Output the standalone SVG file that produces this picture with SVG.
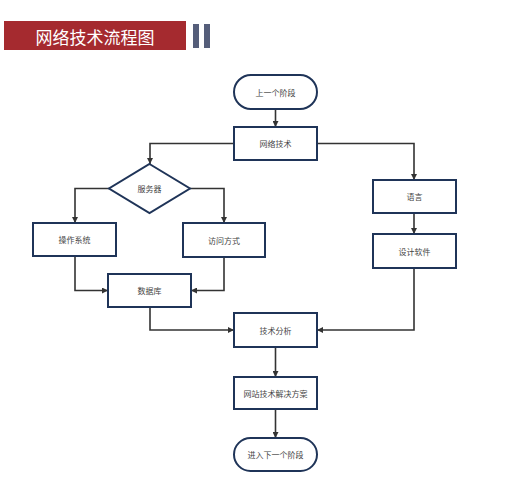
<svg xmlns="http://www.w3.org/2000/svg" width="526" height="500" viewBox="0 0 526 500">
<defs>
<marker id="arr" viewBox="0 0 10 10" refX="10" refY="5" markerWidth="6" markerHeight="6" markerUnits="userSpaceOnUse" orient="auto">
<path d="M0,0 L10,5 L0,10 Z" fill="#333"/>
</marker>
</defs>
<style>
.box{fill:#fff;stroke:#1f3458;stroke-width:2}
.lbl{font-family:"Noto Sans CJK SC","Noto Sans",sans-serif;font-size:8px;fill:#444;text-anchor:middle;dominant-baseline:central}
.con{fill:none;stroke:#333;stroke-width:1.6;marker-end:url(#arr)}
</style>
<rect width="526" height="500" fill="#fff"/>
<g id="title">
<rect x="4" y="21" width="182" height="29" fill="#a52a2f"/>
<text x="95" y="36" font-family="'Noto Sans CJK SC',sans-serif" font-size="17" fill="#fff" text-anchor="middle" dominant-baseline="central">网络技术流程图</text>
<rect x="193" y="24" width="6" height="24" fill="#555e7a"/>
<rect x="204" y="24" width="6" height="24" fill="#555e7a"/>
</g>
<g id="connectors">
<path class="con" d="M275.5,109 V127"/>
<path class="con" d="M234,143.5 H150 V164"/>
<path class="con" d="M317,143.5 H414 V180"/>
<path class="con" d="M109,188.5 H75 V223"/>
<path class="con" d="M190,188.5 H224 V223"/>
<path class="con" d="M75,256 V290.5 H108"/>
<path class="con" d="M224,257 V290.5 H191"/>
<path class="con" d="M414,213 V234"/>
<path class="con" d="M150,307 V330 H234"/>
<path class="con" d="M414,268 V330 H317"/>
<path class="con" d="M275.5,347 V377"/>
<path class="con" d="M275.5,409 V438"/>
</g>
<g id="start"><rect class="box" x="234" y="75" width="83" height="34" rx="17"/><text class="lbl" x="275.5" y="92">上一个阶段</text></g>
<g id="net"><rect class="box" x="234" y="127" width="83" height="33"/><text class="lbl" x="275.5" y="143.5">网络技术</text></g>
<g id="server"><polygon class="box" points="149.5,164 190,188.5 149.5,213 109,188.5"/><text class="lbl" x="149.5" y="188.5">服务器</text></g>
<g id="os"><rect class="box" x="33" y="223" width="83" height="33"/><text class="lbl" x="74.5" y="239.5">操作系统</text></g>
<g id="access"><rect class="box" x="183" y="223" width="82" height="34"/><text class="lbl" x="224" y="240">访问方式</text></g>
<g id="lang"><rect class="box" x="373" y="180" width="83" height="33"/><text class="lbl" x="414.5" y="196.5">语言</text></g>
<g id="design"><rect class="box" x="373" y="234" width="83" height="34"/><text class="lbl" x="414.5" y="251">设计软件</text></g>
<g id="db"><rect class="box" x="108" y="274" width="83" height="33"/><text class="lbl" x="149.5" y="290.5">数据库</text></g>
<g id="analysis"><rect class="box" x="234" y="313" width="83" height="34"/><text class="lbl" x="275.5" y="330">技术分析</text></g>
<g id="solution"><rect class="box" x="234" y="377" width="83" height="32"/><text class="lbl" x="275.5" y="393">网站技术解决方案</text></g>
<g id="end"><rect class="box" x="234" y="438" width="83" height="33" rx="16.5"/><text class="lbl" x="275.5" y="454.5">进入下一个阶段</text></g>
</svg>
